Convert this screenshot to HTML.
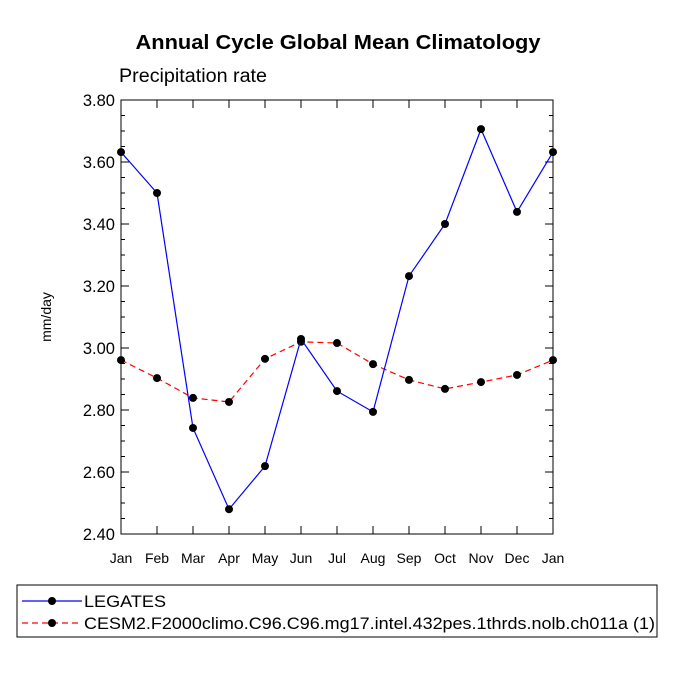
<!DOCTYPE html>
<html><head><meta charset="utf-8"><style>
body{margin:0;background:#fff;}
svg text{font-family:"Liberation Sans",Helvetica,Arial,sans-serif;}
</style></head><body>
<svg id="chart" width="675" height="675" xmlns="http://www.w3.org/2000/svg">
<rect width="675" height="675" fill="#fff"/>
<text x="338" y="49" text-anchor="middle" font-size="20" font-weight="bold" textLength="405" lengthAdjust="spacingAndGlyphs">Annual Cycle Global Mean Climatology</text>
<text x="119" y="82" font-size="19" textLength="148" lengthAdjust="spacingAndGlyphs">Precipitation rate</text>
<text transform="translate(51,317) rotate(-90)" text-anchor="middle" font-size="14">mm/day</text>
<g id="axes"></g>
<g id="series"></g>
<rect x="17" y="585" width="640" height="52" fill="none" stroke="#000" stroke-width="1"/>
<g>
<line x1="22" y1="601" x2="82" y2="601" stroke="#0000ff" stroke-width="1.2"/>
<circle cx="52" cy="601" r="4" fill="#000"/>
<text x="84" y="607" font-size="17" textLength="82" lengthAdjust="spacingAndGlyphs">LEGATES</text>
</g>
<g>
<line x1="22" y1="623" x2="82" y2="623" stroke="#ff0000" stroke-width="1.2" stroke-dasharray="6,4"/>
<circle cx="52" cy="623" r="4" fill="#000"/>
<text x="84" y="629" font-size="17" textLength="571" lengthAdjust="spacingAndGlyphs">CESM2.F2000climo.C96.C96.mg17.intel.432pes.1thrds.nolb.ch011a (1)</text>
</g>
</svg>
<script>
const months=["Jan","Feb","Mar","Apr","May","Jun","Jul","Aug","Sep","Oct","Nov","Dec","Jan"];
const legates=[3.632,3.50,2.742,2.48,2.619,3.029,2.861,2.794,3.232,3.40,3.706,3.439,3.632];
const cesm=[2.961,2.903,2.839,2.826,2.965,3.02,3.016,2.948,2.897,2.868,2.890,2.913,2.961];
const yTicks=[2.4,2.6,2.8,3.0,3.2,3.4,3.6,3.8];
const NS="http://www.w3.org/2000/svg";
const X0=121,X1=553,Y0=534,Y1=100,YMIN=2.4,YMAX=3.8;
const xs=i=>X0+(X1-X0)*i/(months.length-1);
const ys=v=>Y0-(v-YMIN)/(YMAX-YMIN)*(Y0-Y1);
function mk(t,a,p){const e=document.createElementNS(NS,t);for(const k in a)e.setAttribute(k,a[k]);p.appendChild(e);return e;}
const ax=document.getElementById('axes');
const frame=mk('rect',{x:X0,y:Y1,width:X1-X0,height:Y0-Y1,fill:'none',stroke:'#000','stroke-width':1},ax);


for(let v=YMIN;v<=YMAX+1e-9;v+=0.05){
  const y=ys(v);const major=Math.abs(Math.round(v*5)-v*5)<1e-6;const L=major?8:4;
  mk('line',{x1:X0,y1:y,x2:X0+L,y2:y,stroke:'#000'},ax);
  mk('line',{x1:X1,y1:y,x2:X1-L,y2:y,stroke:'#000'},ax);
}
yTicks.forEach(v=>{
  const t=mk('text',{x:X0-6,y:ys(v)+6,'text-anchor':'end','font-size':16.5},ax);
  t.textContent=v.toFixed(2);
  
  
});
months.forEach((m,i)=>{
  const x=xs(i);
  mk('line',{x1:x,y1:Y0,x2:x,y2:Y0-8,stroke:'#000'},ax);
  mk('line',{x1:x,y1:Y1,x2:x,y2:Y1+8,stroke:'#000'},ax);
  const t=mk('text',{x:x,y:Y0+29,'text-anchor':'middle','font-size':14},ax);
  t.textContent=m;
  
  
});
const sg=document.getElementById('series');
function series(vals,color,dash,name){
  const g=mk('g',{},sg);
  
  
  const a={points:vals.map((v,i)=>xs(i)+','+ys(v)).join(' '),fill:'none',stroke:color,'stroke-width':1.2};
  if(dash)a['stroke-dasharray']=dash;
  mk('polyline',a,g);
  vals.forEach((v,i)=>{
    const c=mk('circle',{cx:xs(i),cy:ys(v),r:4,fill:'#000'},g);
    
    
  });
}
series(cesm,'#ff0000','6,4','cesm2-series');
series(legates,'#0000ff',null,'legates-series');
</script>
</body></html>
